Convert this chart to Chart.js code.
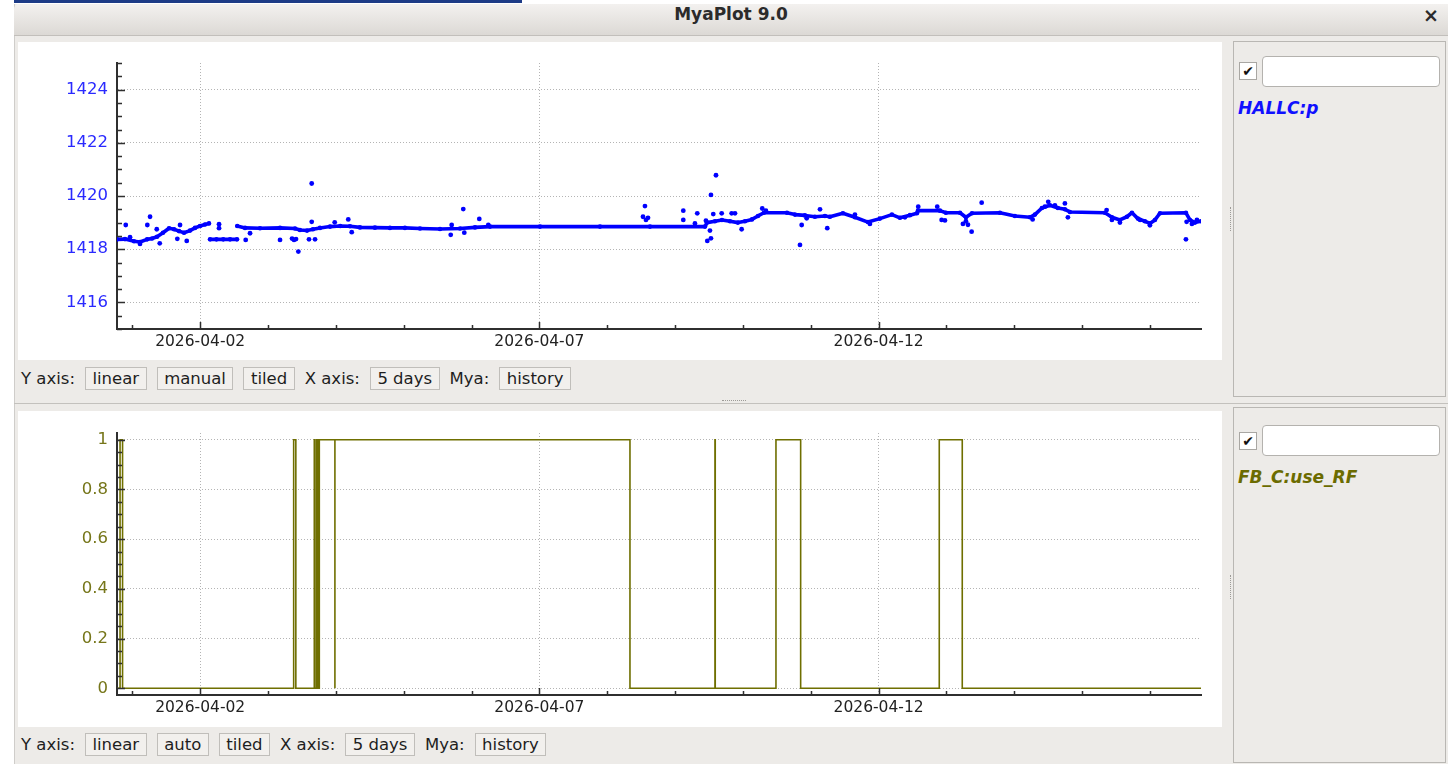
<!DOCTYPE html>
<html>
<head>
<meta charset="utf-8">
<title>MyaPlot 9.0</title>
<script src="https://cdn.jsdelivr.net/npm/chart.js@4.4.1/dist/chart.umd.min.js"></script>
<style>
  html, body { margin: 0; padding: 0; }
  body { width: 1448px; height: 764px; position: relative; overflow: hidden; background: #ffffff;
         font-family: "DejaVu Sans", sans-serif; }
  .abs { position: absolute; }
  #backstrip { left: 14px; top: 0; width: 508px; height: 3px; background: #1d3b86; }
  #win { left: 14px; top: 4px; width: 1434px; height: 760px; background: #edebe8;
         border-left: 1px solid #cfcdca; box-sizing: border-box; }
  #titlebar { left: 14px; top: 4px; width: 1434px; height: 32px; box-sizing: border-box;
              background: linear-gradient(#f3f1ef, #dcd9d5); border-bottom: 1px solid #c2bfbb;
              border-top-left-radius: 5px; text-align: center; line-height: 32px;
              font: bold 17px "DejaVu Sans", sans-serif; color: #2b2b2b; }
  #closeBtn { left: 1420px; top: 4px; width: 22px; height: 32px; line-height: 32px; text-align: center;
              font: bold 19px "DejaVu Sans", sans-serif; color: #2b2b2b; }
  .plot { background: #ffffff; }
  .plot canvas { display: block; }
  .ctl { position: absolute; left: 21px; height: 23px; display: flex; align-items: center; gap: 10px;
         font: 16.5px "DejaVu Sans", sans-serif; color: #1e1e1e; white-space: nowrap; }
  .ctl .box { height: 21px; line-height: 21px; padding: 0 6.5px; border: 1px solid #c0beba;
              background: #f2f0ed; }
  .side { border: 1px solid #b9b7b3; box-sizing: border-box; }
  .chk { width: 18px; height: 18px; box-sizing: border-box; background: #ffffff; border: 1px solid #a9a7a3;
         font: bold 14px "DejaVu Sans", sans-serif; line-height: 16px; text-align: center; color: #111; }
  .field { width: 178px; height: 31px; box-sizing: border-box; background: #ffffff; border: 1px solid #b4b2ae;
           border-radius: 4px; }
  .pvname { font: italic bold 17px "DejaVu Sans", sans-serif; line-height: 17px; white-space: nowrap; }
  .hsplit { left: 14px; width: 1434px; height: 1px; background: #c3c1bd; }
  .grip-v { width: 0; height: 24px; border-left: 1px dotted #9d9b97; }
  .grip-h { width: 24px; height: 0; border-top: 1px dotted #9d9b97; }
</style>
</head>
<body>
<div id="backstrip" class="abs"></div>
<div id="win" class="abs"></div>
<div id="titlebar" class="abs">MyaPlot 9.0</div>
<div id="closeBtn" class="abs">×</div>

<div class="plot abs" style="left:18px;top:42px;width:1204px;height:318px;">
  <canvas id="chartP" width="1204" height="318"></canvas>
</div>
<div class="ctl" style="top:367px;">
  <span>Y axis:</span><span class="box">linear</span><span class="box">manual</span><span class="box">tiled</span>
  <span>X axis:</span><span class="box">5 days</span><span>Mya:</span><span class="box">history</span>
</div>

<div class="hsplit abs" style="top:403px;"></div>
<div class="grip-h abs" style="left:722px;top:400px;"></div>

<div class="plot abs" style="left:18px;top:411px;width:1204px;height:316px;">
  <canvas id="chartRF" width="1204" height="316"></canvas>
</div>
<div class="ctl" style="top:733px;">
  <span>Y axis:</span><span class="box">linear</span><span class="box">auto</span><span class="box">tiled</span>
  <span>X axis:</span><span class="box">5 days</span><span>Mya:</span><span class="box">history</span>
</div>

<div class="side abs" style="left:1233px;top:41px;width:213px;height:356px;"></div>
<div class="grip-v abs" style="left:1230px;top:207px;"></div>
<div class="chk abs" style="left:1239px;top:62px;">✔</div>
<div class="field abs" style="left:1262px;top:56px;"></div>
<div class="pvname abs" style="left:1238px;top:100px;color:#1010ff;">HALLC:p</div>

<div class="side abs" style="left:1233px;top:407px;width:213px;height:356px;"></div>
<div class="grip-v abs" style="left:1230px;top:575px;"></div>
<div class="chk abs" style="left:1239px;top:432px;">✔</div>
<div class="field abs" style="left:1262px;top:425px;"></div>
<div class="pvname abs" style="left:1238px;top:469px;color:#6b6b00;">FB_C:use_RF</div>

<script>
// ---- Time axis: days since 2026-04-01 00:00 ----
const xMin = -0.226;
const xMax = 15.752;
const xTickDays   = [1, 6, 11];
const xTickLabels = ['2026-04-02', '2026-04-07', '2026-04-12'];

// ---- HALLC:p (continuous archived trace; null marks a gap) ----
const pTraceDay = [
  -0.226, -0.108, 0.025, 0.113, 0.217, 0.29, 0.364, 0.452, 0.541, 0.615, 0.688, 0.762, 0.85, 0.924, 0.998, 1.071, 1.13,
  1.137,
  1.145, 1.24, 1.34, 1.44, 1.543,
  1.545,
  1.546, 1.661, 1.882, 2.177, 2.398, 2.471, 2.575, 2.663, 2.766, 2.914, 3.064, 3.208, 3.355, 3.576, 3.797, 4.018,
  4.24, 4.535, 4.83, 5.051, 5.272, 6.009, 6.893, 7.63, 8.441,
  8.471, 8.588, 8.691, 8.809, 8.927, 9.03, 9.133, 9.222, 9.31, 9.649, 9.767, 9.914, 10.061, 10.209, 10.282, 10.474,
  10.651, 10.842, 11.019, 11.196, 11.314, 11.462, 11.565, 11.58, 11.904, 11.992, 12.199, 12.287, 12.376, 12.788,
  13.009, 13.23, 13.304, 13.407, 13.525, 13.643, 13.746, 13.82, 14.336, 14.439, 14.557, 14.66, 14.734, 14.822,
  14.925, 14.999, 15.073, 15.147, 15.53, 15.589, 15.663, 15.752
];
const pTraceVal = [
  1418.37, 1418.38, 1418.30, 1418.27, 1418.37, 1418.40, 1418.47, 1418.62, 1418.79, 1418.75, 1418.68, 1418.62, 1418.70, 1418.80, 1418.87, 1418.93, 1418.97,
  null,
  1418.37, 1418.37, 1418.37, 1418.37, 1418.37,
  null,
  1418.87, 1418.80, 1418.79, 1418.80, 1418.78, 1418.72, 1418.70, 1418.75, 1418.80, 1418.85, 1418.87, 1418.86, 1418.82, 1418.81, 1418.80, 1418.80,
  1418.78, 1418.76, 1418.78, 1418.82, 1418.85, 1418.85, 1418.85, 1418.85, 1418.85,
  1419.00, 1419.05, 1419.10, 1419.05, 1419.00, 1419.05, 1419.12, 1419.25, 1419.37, 1419.37, 1419.30, 1419.27, 1419.22, 1419.25, 1419.22, 1419.35,
  1419.20, 1419.02, 1419.15, 1419.30, 1419.18, 1419.28, 1419.35, 1419.45, 1419.45, 1419.37, 1419.37, 1419.20, 1419.35, 1419.37,
  1419.25, 1419.20, 1419.30, 1419.55, 1419.65, 1419.55, 1419.50, 1419.40, 1419.37, 1419.20, 1419.10, 1419.22, 1419.37, 1419.15,
  1419.05, 1418.97, 1419.10, 1419.35, 1419.37, 1419.10, 1419.00, 1419.05
];

// ---- HALLC:p (isolated samples off the main trace) ----
const pSpotDay = [
  -0.097, 0.261, 0.221, 0.36, 0.404, 0.663, 0.703, 0.802, 1.278, 1.278, 1.671, 1.735, 2.177, 2.354, 2.383, 2.413,
  2.447, 2.644, 2.644, 2.604, 2.693, 2.983, 3.183, 3.234, 4.707, 4.693, 4.878, 4.893, 5.114, 5.247, 7.556, 7.527,
  7.571, 7.601, 8.121, 8.121, 8.327, 8.293, 8.529, 8.603, 8.475, 8.529, 8.514, 8.455, 8.563, 8.687, 8.834, 8.883,
  8.981, 9.285, 9.841, 9.866, 10.136, 10.243, 9.94, 11.584, 11.864, 11.929, 11.978, 12.243, 12.287, 12.317, 12.371,
  12.519, 13.27, 13.5, 13.451, 13.599, 13.746, 13.79, 14.361, 15.53, 15.54,
  -0.034, 0.113, 9.339, 10.651, 10.872, 11.388, 14.439, 14.557, 14.854, 14.999, 15.618, 15.692
];
const pSpotVal = [
  1418.91, 1419.22, 1418.91, 1418.75, 1418.22, 1418.39, 1418.91, 1418.31, 1418.94, 1418.79, 1418.35, 1418.60, 1418.35, 1418.40, 1418.35, 1418.38,
  1417.91, 1420.47, 1419.03, 1418.37, 1418.37, 1419.01, 1419.12, 1418.64, 1418.91, 1418.54, 1419.51, 1418.62, 1419.14, 1418.91, 1419.62, 1419.22,
  1419.10, 1419.18, 1419.45, 1419.10, 1419.35, 1418.97, 1420.04, 1420.78, 1418.31, 1418.41, 1418.70, 1419.07, 1419.32, 1419.35, 1419.35, 1419.35,
  1418.75, 1419.53, 1418.16, 1418.91, 1419.50, 1418.79, 1419.16, 1419.60, 1419.60, 1419.10, 1419.08, 1418.95, 1419.05, 1418.92, 1418.66,
  1419.75, 1419.12, 1419.78, 1419.60, 1419.65, 1419.72, 1419.20, 1419.47, 1418.37, 1419.03,
  1418.45, 1418.20, 1419.45, 1419.30, 1418.95, 1419.20, 1419.10, 1419.00, 1419.10, 1418.90, 1418.95, 1419.10
];
const pTickVals = [1416, 1418, 1420, 1422, 1424];

// ---- FB_C:use_RF (value held from each change time) ----
const rfDay = [-0.226, -0.181, -0.144, 2.378, 2.41, 2.682, 2.692, 2.718, 2.737, 2.756, 2.986, 2.986,
               7.335, 8.588, 8.592, 9.487, 9.851, 11.894, 12.233, 15.752];
const rfVal = [0, 1, 0, 1, 0, 1, 0, 1, 0, 1, 0, 1, 0, 1, 0, 1, 0, 1, 0, 0];
const rfTickVals   = [0, 0.2, 0.4, 0.6, 0.8, 1];
const rfTickLabels = ['0', '0.2', '0.4', '0.6', '0.8', '1'];

const BLUE = '#0000ff';
const OLIVE = '#6f6f00';
const AXIS = '#2f2f2f';
const GRID = '#b4b4b4';

const zip = (xs, ys) => xs.map((x, i) => ({ x: x, y: ys[i] }));

// Tick marks drawn on the inside of the axes (major + minor)
const innerTicks = {
  id: 'innerTicks',
  afterDraw(chart, args, opts) {
    const { ctx, chartArea: a } = chart;
    const xs = chart.scales.x, ys = chart.scales.y;
    ctx.save();
    ctx.strokeStyle = AXIS;
    ctx.lineWidth = 1.5;
    ctx.beginPath();
    const near = (v, list) => list.some(t => Math.abs(t - v) < 1e-6);
    for (let k = Math.ceil(xs.min / opts.xStep); k * opts.xStep <= xs.max; k++) {
      const v = k * opts.xStep;
      const px = Math.round(xs.getPixelForValue(v)) + 0.5;
      const len = near(v, opts.xMajor) ? 7 : 4;
      ctx.moveTo(px, a.bottom);
      ctx.lineTo(px, a.bottom - len);
    }
    for (let k = Math.ceil(ys.min / opts.yStep - 1e-9); k * opts.yStep <= ys.max + 1e-9; k++) {
      const v = k * opts.yStep;
      const py = Math.round(ys.getPixelForValue(v)) + 0.5;
      const len = near(v, opts.yMajor) ? 8 : 5;
      ctx.moveTo(a.left, py);
      ctx.lineTo(a.left + len, py);
    }
    ctx.stroke();
    ctx.restore();
  }
};

function timeAxis(height) {
  return {
    type: 'linear',
    min: xMin,
    max: xMax,
    afterBuildTicks: s => { s.ticks = xTickDays.map(v => ({ value: v })); },
    afterFit: s => { s.height = height; },
    ticks: {
      autoSkip: false, maxRotation: 0, padding: 4, color: '#222222',
      font: { family: 'DejaVu Sans', size: 15.5 },
      callback: v => xTickLabels[xTickDays.indexOf(v)]
    },
    grid: { color: GRID, lineWidth: 1, drawTicks: false },
    border: { display: true, color: AXIS, width: 2, dash: [1, 2] }
  };
}

function valueAxis(min, max, vals, labels, color) {
  return {
    type: 'linear',
    min: min,
    max: max,
    afterBuildTicks: s => { s.ticks = vals.map(v => ({ value: v })); },
    afterFit: s => { s.width = 99; },
    ticks: {
      autoSkip: false, padding: 9, color: color,
      font: { family: 'DejaVu Sans', size: 16.5 },
      callback: v => labels[vals.indexOf(v)]
    },
    grid: { color: GRID, lineWidth: 1, drawTicks: false },
    border: { display: true, color: AXIS, width: 2, dash: [1, 2] }
  };
}

const common = {
  responsive: false,
  animation: false,
  devicePixelRatio: 1,
  events: [],
  plugins: { legend: { display: false }, tooltip: { enabled: false } }
};

new Chart(document.getElementById('chartP'), {
  type: 'scatter',
  data: {
    datasets: [
      {
        data: zip(pTraceDay, pTraceVal),
        showLine: true, spanGaps: false,
        borderColor: BLUE, borderWidth: 3.6, borderCapStyle: 'round', borderJoinStyle: 'round',
        pointRadius: 2.3, pointBorderWidth: 0, pointBackgroundColor: BLUE, tension: 0
      },
      {
        data: zip(pSpotDay, pSpotVal),
        showLine: false,
        pointRadius: 2.4, pointBorderWidth: 0, backgroundColor: BLUE, pointBackgroundColor: BLUE
      }
    ]
  },
  options: Object.assign({}, common, {
    layout: { padding: { left: 0, right: 21, top: 21, bottom: 0 } },
    scales: {
      x: timeAxis(31),
      y: valueAxis(1415, 1425, pTickVals, pTickVals.map(String), '#2a2aff')
    },
    plugins: Object.assign({}, common.plugins, {
      innerTicks: { xStep: 1, xMajor: xTickDays, yStep: 0.5, yMajor: pTickVals }
    })
  }),
  plugins: [innerTicks]
});

new Chart(document.getElementById('chartRF'), {
  type: 'scatter',
  data: {
    datasets: [
      {
        data: zip(rfDay, rfVal),
        showLine: true, stepped: true,
        borderColor: OLIVE, borderWidth: 1.6,
        pointRadius: 0
      }
    ]
  },
  options: Object.assign({}, common, {
    layout: { padding: { left: 0, right: 21, top: 22, bottom: 0 } },
    scales: {
      x: timeAxis(32),
      y: valueAxis(-0.027, 1.027, rfTickVals, rfTickLabels, '#76761a')
    },
    plugins: Object.assign({}, common.plugins, {
      innerTicks: { xStep: 1, xMajor: xTickDays, yStep: 0.05, yMajor: rfTickVals }
    })
  }),
  plugins: [innerTicks]
});
</script>
</body>
</html>
